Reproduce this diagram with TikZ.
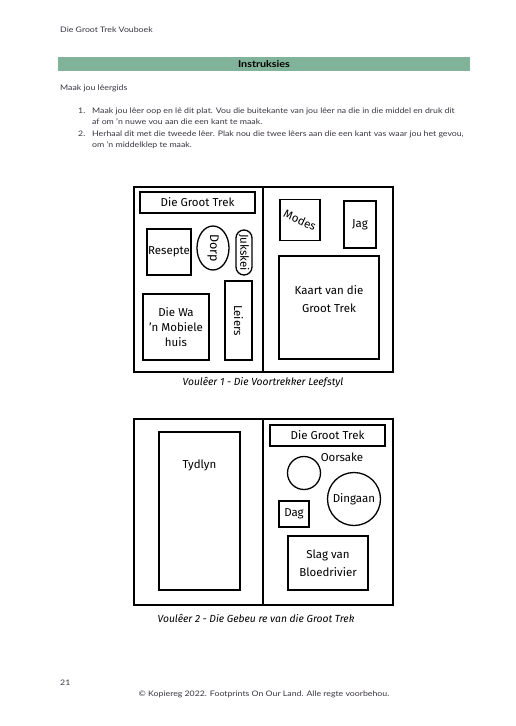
\documentclass[tikz,border=0pt]{standalone}
\usepackage{fontspec}
\setmainfont{Lato}[FakeStretch=1.15]
\newfontfamily\diag{Fira Sans}
\usetikzlibrary{shapes.geometric,shapes.misc}
\definecolor{bargreen}{HTML}{80B399}
\definecolor{bodytxt}{HTML}{3A3540}
\begin{document}
\begin{tikzpicture}[x=1pt,y=-1pt,
  box/.style={draw, line width=1.3pt, inner sep=0pt},
  outerbox/.style={draw, line width=1.5pt, inner sep=0pt},
  lbl/.style={font=\diag\fontsize{11.5}{15}\selectfont, inner sep=0pt, align=center},
  widelbl/.style={font=\diag\fontsize{11.5}{18}\selectfont, inner sep=0pt, align=center},
  capstyle/.style={font=\diag\itshape\fontsize{10.3}{13}\selectfont, inner sep=0pt},
  body/.style={font=\fontsize{7.6}{9}\selectfont, text=bodytxt, anchor=west, inner sep=0pt},
  divider/.style={line width=1.5pt}]
\useasboundingbox[fill=white] (0,0) rectangle (515,726);

% header
\node[body] (hdr) at (60,30) {Die Groot Trek Vouboek};
\node[fill=bargreen, minimum width=412pt, minimum height=14pt, inner sep=0pt] (bar) at (264,64) {};
\node[font=\bfseries\fontsize{9.4}{10}\selectfont, inner sep=0pt] (instr) at (bar.center) {Instruksies};
\node[body] (sub) at (60,88) {Maak jou lêergids};
\node[body] (n1) at (78,111) {1.};
\node[body] (l1) at (92,111) {Maak jou lêer oop en lê dit plat. Vou die buitekante van jou lêer na die in die middel en druk dit};
\node[body] (l2) at (92,122) {af om ’n nuwe vou aan die een kant te maak.};
\node[body] (n2) at (78,134) {2.};
\node[body] (l3) at (92,134) {Herhaal dit met die tweede lêer. Plak nou die twee lêers aan die een kant vas waar jou het gevou,};
\node[body] (l4) at (92,145) {om ’n middelklep te maak.};

% diagram 1
\node[outerbox, minimum width=259pt, minimum height=185pt] (outer1) at (263.5,279.5) {};
\coordinate (d1t) at (263,187);
\coordinate (d1b) at (263,372);
\draw[divider] (d1t) -- (d1b);
\node[box, lbl, minimum width=115pt, minimum height=21pt] (dgt1) at (197.5,202.5) {Die Groot Trek};
\node[box, lbl, minimum width=44pt, minimum height=46pt] (resepte) at (169,252) {Resepte};
\node[box, lbl, ellipse, rotate=-90, minimum width=44pt, minimum height=32pt, font=\diag\fontsize{12.5}{15}\selectfont] (dorp) at (213,248) {Dorp};
\node[box, lbl, rounded rectangle, rotate=-90, minimum width=45pt, minimum height=16pt] (jukskei) at (244,252.5) {Jukskei};
\node[box, lbl, rotate=-90, minimum width=79pt, minimum height=27pt] (leiers) at (238.5,320.5) {Leiers};
\node[box, lbl, minimum width=66pt, minimum height=66pt] (diewa) at (176,327) {Die Wa\\’n Mobiele\\huis};
\node[box, lbl, minimum width=40pt, minimum height=41pt] (modes) at (300,220) {\raisebox{3pt}{\rotatebox{-25}{Modes}}};
\node[box, lbl, minimum width=32pt, minimum height=47pt] (jag) at (360,224.5) {Jag};
\node[box, minimum width=100pt, minimum height=103pt] (kaart) at (329,307.5) {};
\node[widelbl] (kaarttxt) at (329,299) {Kaart van die\\Groot Trek};
\node[capstyle] (cap1) at (263,383) {Voulêer 1 - Die Voortrekker Leefstyl};

% diagram 2
\node[outerbox, minimum width=259pt, minimum height=186pt] (outer2) at (263.5,512) {};
\coordinate (d2t) at (263,419);
\coordinate (d2b) at (263,605);
\draw[divider] (d2t) -- (d2b);
\node[box, minimum width=81pt, minimum height=158pt] (tydlyn) at (199.5,511) {};
\node[lbl] (tydlyntxt) at (199.5,465) {Tydlyn};
\node[box, lbl, minimum width=115pt, minimum height=21pt] (dgt2) at (327.5,435.5) {Die Groot Trek};
\node[box, circle, minimum size=33pt] (oorsake) at (304,473) {};
\node[lbl] (oorsaketxt) at (342,457) {Oorsake};
\node[box, lbl, circle, minimum size=53pt] (dingaan) at (354,499) {Dingaan};
\node[box, lbl, minimum width=30pt, minimum height=26pt] (dag) at (294,514) {Dag};
\node[box, widelbl, minimum width=80pt, minimum height=54pt] (slag) at (328,563) {Slag van\\Bloedrivier};
\node[capstyle] (cap2) at (256,618) {Voulêer 2 - Die Gebeu re van die Groot Trek};

% footer
\node[body] (pg) at (60,683) {21};
\node[font=\fontsize{7.6}{9}\selectfont, text=bodytxt, inner sep=0pt] (copy) at (264,694) {© Kopiereg 2022. Footprints On Our Land. Alle regte voorbehou.};
\end{tikzpicture}
\end{document}
